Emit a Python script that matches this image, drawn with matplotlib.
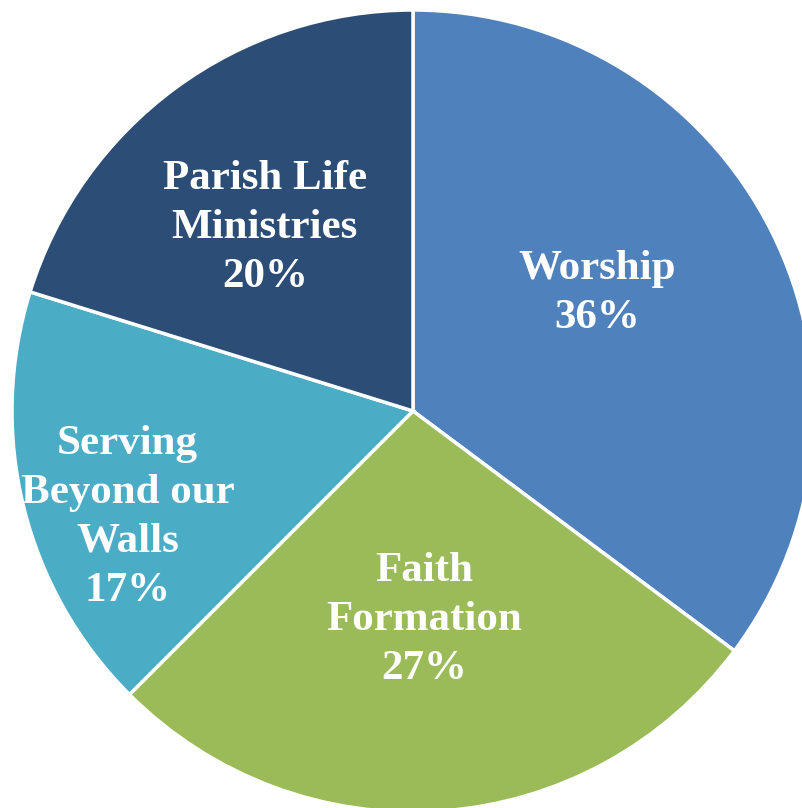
import matplotlib
matplotlib.use("Agg")
import matplotlib.pyplot as plt
import numpy as np

categories = ["Worship", "Faith\nFormation", "Serving\nBeyond our\nWalls", "Parish Life\nMinistries"]
values = [35.2, 27.3, 17.3, 20.2]          # slice sizes as drawn
pct_labels = ["36%", "27%", "17%", "20%"]  # percentages as printed
colors = ["#4F81BD", "#9BBB59", "#4BACC6", "#2C4D75"]
# label placement tweaks: (radial fraction, angle offset in degrees)
label_dist = [0.549, 0.515, 0.757, 0.593]
label_dang = [6.7, -1.0, 6.0, 2.2]

fig = plt.figure(figsize=(8.02, 8.08), dpi=100)
W, H = 802, 808
cx, cy, R = 413, 411, 401
ax = fig.add_axes([(cx - R) / W, 1 - (cy + R) / H, 2 * R / W, 2 * R / H])
wedges, _ = ax.pie(values, colors=colors, startangle=90, counterclock=False,
                   wedgeprops=dict(edgecolor="white", linewidth=2.5))
for w, cat, p, d, da in zip(wedges, categories, pct_labels, label_dist, label_dang):
    mid = np.deg2rad((w.theta1 + w.theta2) / 2 + da)
    ax.text(d * np.cos(mid), d * np.sin(mid) - 0.008, f"{cat}\n{p}", ha="center", va="center",
            color="white", fontsize=31, fontweight="bold", family="Liberation Serif",
            linespacing=1.38)
ax.set_xlim(-1, 1)
ax.set_ylim(-1, 1)
ax.set_aspect("equal")
ax.axis("off")
fig.savefig("out.png", dpi=100)
